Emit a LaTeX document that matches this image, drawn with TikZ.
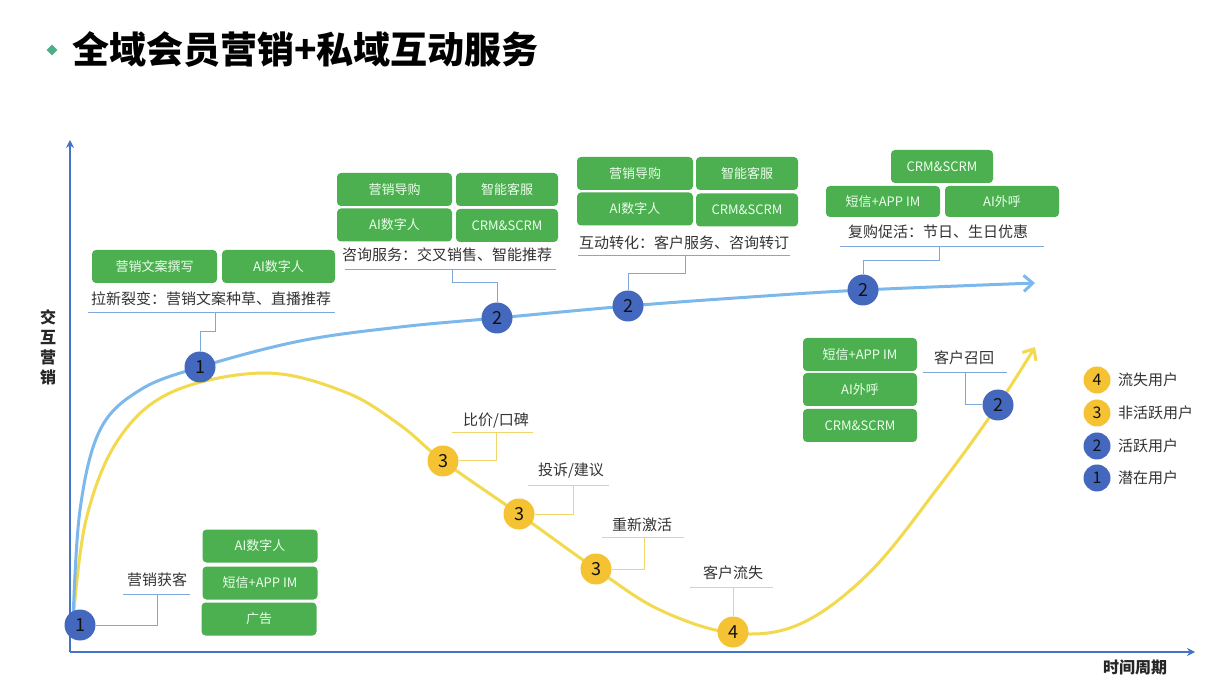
\documentclass[tikz,border=0pt]{standalone}
\usepackage{fontspec}
\setmainfont{Noto Sans CJK SC}
\usetikzlibrary{arrows.meta,shapes.geometric}
\definecolor{axisblue}{HTML}{4472C4}
\definecolor{curveblue}{HTML}{7DB8EC}
\definecolor{curveyellow}{HTML}{F2D94E}
\definecolor{circblue}{HTML}{4468BE}
\definecolor{circyellow}{HTML}{F4C233}
\definecolor{boxgreen}{HTML}{4CAF50}
\definecolor{titlegreen}{HTML}{4CAF88}
\definecolor{lineblue}{HTML}{7FA8DA}
\definecolor{lineyellow}{HTML}{F3D46A}
\definecolor{txtgray}{HTML}{333333}
\definecolor{numdark}{HTML}{111111}
\tikzset{
  gbox/.style={fill=boxgreen, rounded corners=4pt, text=white!92!green, inner sep=0pt,
    font=\fontsize{13}{15}\selectfont, minimum height=33pt},
  bcirc/.style={circle, fill=circblue, inner sep=0pt, minimum size=31pt,
    font=\fontsize{18}{18}\selectfont, text=numdark},
  ycirc/.style={circle, fill=circyellow, inner sep=0pt, minimum size=31pt,
    font=\fontsize{18}{18}\selectfont, text=numdark},
  lbcirc/.style={bcirc, minimum size=27pt, font=\fontsize{16}{16}\selectfont},
  lycirc/.style={ycirc, minimum size=27pt, font=\fontsize{16}{16}\selectfont},
  lbl/.style={font=\fontsize{15}{17}\selectfont, text=txtgray, inner sep=0pt},
  bline/.style={draw=lineblue, line width=1pt},
  yline/.style={draw=lineyellow, line width=1pt},
  axislbl/.style={font=\bfseries\fontsize{16}{18}\selectfont, text=black!85, inner sep=0pt},
}
\begin{document}
\begin{tikzpicture}[x=1pt,y=-1pt]
\useasboundingbox[fill=white] (0,0) rectangle (1216,700);

% title
\node[diamond, fill=titlegreen, inner sep=0pt, minimum size=11pt] (tdia) at (52,50) {};
\node[anchor=west, inner sep=0pt, font=\bfseries\fontsize{37}{40}\selectfont, text=black] (title) at (72,50) {全域会员营销+私域互动服务};

% axes
\coordinate (origin) at (70,652);
\coordinate (ytop) at (70,140);
\coordinate (xend) at (1195,652);
\draw[axisblue, line width=2pt, -{Stealth[length=8pt,width=8pt]}] (origin) -- (ytop);
\draw[axisblue, line width=2pt, -{Stealth[length=8pt,width=8pt]}] (origin) -- (xend);
\node[axislbl, align=center] (ylab) at (48,347) {交\\[2pt]互\\[2pt]营\\[2pt]销};
\node[axislbl] (xlab) at (1135,667) {时间周期};

% curves
\draw[curveyellow, line width=3pt, -{Straight Barb[length=9pt,width=16pt]}]
  plot[smooth, tension=0.6] coordinates {(73,622) (86,520) (118,440) (172,392) (265,373) (345,392) (400,425) (443,461) (519,514) (596,569) (660,610) (733,633) (800,624) (870,572) (940,485) (998,405) (1035,347)};
\draw[curveblue, line width=3pt, -{Straight Barb[length=9pt,width=16pt]}]
  plot[smooth, tension=0.6] coordinates {(73,622) (80,510) (100,430) (140,390) (200,367) (300,341) (400,327) (497,318) (628,306) (750,297) (863,290) (1035,283)};

% circles on curves
\node[bcirc] (c1) at (80,625) {1};
\node[bcirc] (c2) at (200,367) {1};
\node[bcirc] (c3) at (497,318) {2};
\node[bcirc] (c4) at (628,306) {2};
\node[bcirc] (c5) at (863,290) {2};
\node[ycirc] (c6) at (443,461) {3};
\node[ycirc] (c7) at (519,514) {3};
\node[ycirc] (c8) at (596,569) {3};
\node[ycirc] (c9) at (733,632) {4};
\node[bcirc] (c10) at (998,405) {2};

% --- callout: 营销获客
\node[gbox, minimum width=115pt] (b1a) at (260,546) {AI数字人};
\node[gbox, minimum width=115pt] (b1b) at (260,583) {短信+APP IM};
\node[gbox, minimum width=115pt] (b1c) at (259,619) {广告};
\node[lbl] (t1) at (157,580) {营销获客};
\coordinate (u1l) at (123,594); \coordinate (u1r) at (190,594); \coordinate (u1m) at (157,594);
\draw[bline] (u1l) -- (u1r);
\draw[bline] (c1.east) -| (u1m);

% --- callout: 拉新裂变
\node[gbox, minimum width=125pt] (b2a) at (154.5,266.5) {营销文案撰写};
\node[gbox, minimum width=113pt] (b2b) at (278.5,266.5) {AI数字人};
\node[lbl] (t2) at (211,299) {拉新裂变：营销文案种草、直播推荐};
\coordinate (u2l) at (88,313); \coordinate (u2r) at (335,313); \coordinate (u2m) at (215,313);
\draw[bline] (u2l) -- (u2r);
\draw[bline] (u2m) -- ++(0,19) -| (c2.north);

% --- callout: 咨询服务
\node[gbox, minimum width=115pt] (b3a) at (394.5,189.5) {营销导购};
\node[gbox, minimum width=102pt] (b3b) at (507,189.5) {智能客服};
\node[gbox, minimum width=115pt] (b3c) at (394.5,225) {AI数字人};
\node[gbox, minimum width=102pt] (b3d) at (507,225.5) {CRM\&SCRM};
\node[lbl] (t3) at (447,255) {咨询服务：交叉销售、智能推荐};
\coordinate (u3l) at (345,270); \coordinate (u3r) at (556,270); \coordinate (u3m) at (452,270);
\draw[bline] (u3l) -- (u3r);
\draw[bline] (u3m) -- ++(0,13) -| (c3.north);

% --- callout: 互动转化
\node[gbox, minimum width=116pt] (b4a) at (635,173.5) {营销导购};
\node[gbox, minimum width=102pt] (b4b) at (747,173.5) {智能客服};
\node[gbox, minimum width=116pt] (b4c) at (635,209) {AI数字人};
\node[gbox, minimum width=102pt] (b4d) at (747,210) {CRM\&SCRM};
\node[lbl] (t4) at (684,243) {互动转化：客户服务、咨询转订};
\coordinate (u4l) at (578,256); \coordinate (u4r) at (790,256); \coordinate (u4m) at (685,256);
\draw[bline] (u4l) -- (u4r);
\draw[bline] (u4m) -- ++(0,18) -| (c4.north);

% --- callout: 复购促活
\node[gbox, minimum width=102pt] (b5a) at (942,166.5) {CRM\&SCRM};
\node[gbox, minimum width=114pt, minimum height=31pt] (b5b) at (883,201.5) {短信+APP IM};
\node[gbox, minimum width=114pt, minimum height=31pt] (b5c) at (1002,201.5) {AI外呼};
\node[lbl] (t5) at (938,232) {复购促活：节日、生日优惠};
\coordinate (u5l) at (840,247); \coordinate (u5r) at (1044,247); \coordinate (u5m) at (939,247);
\draw[bline] (u5l) -- (u5r);
\draw[bline] (u5m) -- ++(0,14) -| (c5.north);

% --- callout: 客户召回
\node[gbox, minimum width=114pt] (b6a) at (860,354.5) {短信+APP IM};
\node[gbox, minimum width=114pt] (b6b) at (860,389.5) {AI外呼};
\node[gbox, minimum width=114pt] (b6c) at (860,425.5) {CRM\&SCRM};
\node[lbl] (t6) at (964,358) {客户召回};
\coordinate (u6l) at (923,373); \coordinate (u6r) at (1007,373); \coordinate (u6m) at (965,373);
\draw[bline] (u6l) -- (u6r);
\draw[bline] (u6m) |- (c10.west);

% --- yellow callouts
\node[lbl] (t7) at (496,421) {比价/口碑};
\coordinate (u7l) at (452,433); \coordinate (u7r) at (533,433); \coordinate (u7m) at (496,433);
\draw[yline] (u7l) -- (u7r);
\draw[yline] (u7m) |- (c6.east);

\node[lbl] (t8) at (571,471) {投诉/建议};
\coordinate (u8l) at (528,485); \coordinate (u8r) at (609,485); \coordinate (u8m) at (573,485);
\draw[yline] (u8l) -- (u8r);
\draw[yline] (u8m) |- (c7.east);

\node[lbl] (t9) at (642,525) {重新激活};
\coordinate (u9l) at (602,537); \coordinate (u9r) at (684,537); \coordinate (u9m) at (644,537);
\draw[yline] (u9l) -- (u9r);
\draw[yline] (u9m) |- (c8.east);

\node[lbl] (t10) at (733,573) {客户流失};
\coordinate (u10l) at (690,587); \coordinate (u10r) at (773,587); \coordinate (u10m) at (733,587);
\draw[yline] (u10l) -- (u10r);
\draw[yline] (u10m) -- (c9.north);

% legend
\node[lycirc] (l4) at (1097,380) {4};
\node[lycirc] (l3) at (1097,413) {3};
\node[lbcirc] (l2) at (1097,446) {2};
\node[lbcirc] (l1) at (1097,478) {1};
\node[lbl, anchor=west] (lt4) at (1118,380) {流失用户};
\node[lbl, anchor=west] (lt3) at (1118,413) {非活跃用户};
\node[lbl, anchor=west] (lt2) at (1118,446) {活跃用户};
\node[lbl, anchor=west] (lt1) at (1118,478) {潜在用户};
\end{tikzpicture}
\end{document}
